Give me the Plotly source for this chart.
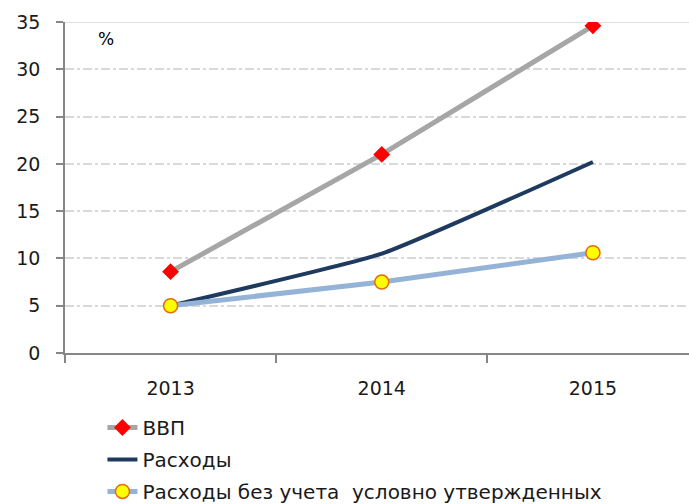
import plotly.graph_objects as go

years = ["2013", "2014", "2015"]
gdp = [8.6, 21.0, 34.6]
spending = [5.0, 10.5, 20.2]
spending_excl = [5.0, 7.5, 10.6]
y_ticks = [0, 5, 10, 15, 20, 25, 30, 35]

FONT = "DejaVu Sans"

fig = go.Figure()
fig.add_trace(go.Scatter(
    x=years, y=gdp, name="ВВП", mode="lines+markers",
    line=dict(color="#a6a6a6", width=5),
    marker=dict(symbol="diamond", size=13, color="#ff0000", line=dict(width=0)),
    legendgroup="a",
))
fig.add_trace(go.Scatter(
    x=years, y=spending, name="Расходы", mode="lines",
    line=dict(color="#1f3a5f", width=4, shape="spline", smoothing=0.4),
    legendgroup="b",
))
fig.add_trace(go.Scatter(
    x=years, y=spending_excl, name="Расходы без учета  условно утвержденных", mode="lines+markers",
    line=dict(color="#95b3d7", width=5),
    marker=dict(symbol="circle", size=14, color="#ffff00", line=dict(color="#e46c0a", width=1.5)),
    legendgroup="c",
))

fig.add_shape(type="line", xref="paper", yref="y", x0=0, x1=1, y0=max(y_ticks), y1=max(y_ticks),
              line=dict(color="#d9d9d9", width=1.5), layer="below")

fig.add_annotation(text="%", xref="paper", yref="paper", x=0.065, y=0.985, showarrow=False,
                   font=dict(family=FONT, size=17, color="#000000"), xanchor="center", yanchor="top")

fig.update_layout(
    width=689, height=504,
    margin=dict(l=65, r=0, t=22, b=151, autoexpand=False),
    paper_bgcolor="white", plot_bgcolor="white",
    font=dict(family=FONT, size=19, color="#000000"),
    showlegend=True,
    legend=dict(x=0.06, y=-0.166, xref="paper", yref="paper", orientation="v",
                xanchor="left", yanchor="top", bgcolor="rgba(0,0,0,0)",
                tracegroupgap=3, font=dict(family=FONT, size=20, color="#1a1a1a")),
    xaxis=dict(
        range=[-0.5, 2.455], type="category", tickson="boundaries",
        showline=True, linecolor="#868686", linewidth=1.5,
        ticks="outside", ticklen=8, tickcolor="#868686", tickwidth=1.5,
        showgrid=False, zeroline=False, ticklabelstandoff=17,
        tickfont=dict(family=FONT, size=19, color="#1a1a1a"),
    ),
    yaxis=dict(
        range=[0, 35], tickvals=y_ticks,
        showline=True, linecolor="#868686", linewidth=1.5,
        ticks="outside", ticklen=7, tickcolor="#868686", tickwidth=1.5,
        showgrid=True, gridcolor="#d9d9d9", griddash="dashdot", gridwidth=1.5,
        zeroline=False, ticklabelstandoff=12,
        tickfont=dict(family=FONT, size=19, color="#1a1a1a"),
    ),
)

fig.write_html("out.html")
